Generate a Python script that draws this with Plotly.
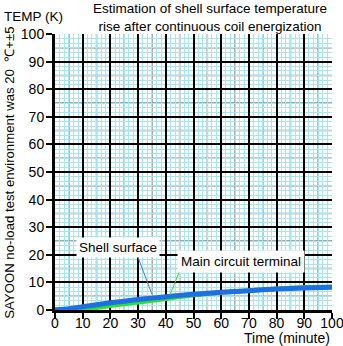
import plotly.graph_objects as go

# ---- data ----
time_min = [0, 5, 10, 15, 20, 25, 30, 35, 40, 45, 50, 55, 60, 70, 80, 90, 100]
shell_surface = [0.1, 0.5, 1.2, 1.9, 2.6, 3.2, 3.8, 4.3, 4.8, 5.3, 5.7, 6.1, 6.4, 7.0, 7.6, 8.0, 8.2]
main_terminal = [0.0, 0.0, 0.2, 0.8, 1.5, 2.2, 2.8, 3.4, 4.1, 4.8, 5.4, 5.9, 6.3, 7.1, 7.7, 8.2, 8.4]
tick_vals = [0, 10, 20, 30, 40, 50, 60, 70, 80, 90, 100]

title_text = "Estimation of shell surface temperature<br>rise after continuous coil energization"
y_title = "SAYOON no-load test environment was 20  \u2103+\u00b15"
x_title = "Time (minute)"
y_unit = "TEMP (K)"

FONT = "Liberation Sans, Arial, sans-serif"

fig = go.Figure()
fig.add_trace(go.Scatter(x=time_min, y=main_terminal, mode="lines",
                         line=dict(color="#2ee02e", width=4.5, shape="spline", smoothing=0.6),
                         name="Main circuit terminal", showlegend=False))
fig.add_trace(go.Scatter(x=time_min, y=shell_surface, mode="lines",
                         line=dict(color="#1e70e2", width=5, shape="spline", smoothing=0.6),
                         name="Shell surface", showlegend=False))

# grey half-decade grid lines
shapes = []
for v in range(5, 100, 10):
    shapes.append(dict(type="line", xref="x", yref="paper", x0=v, x1=v, y0=0, y1=1,
                       line=dict(color="#8a8a8a", width=1.5), layer="between"))
    shapes.append(dict(type="line", xref="paper", yref="y", x0=0, x1=1, y0=v, y1=v,
                       line=dict(color="#8a8a8a", width=1.5), layer="between"))
# leader lines
shapes.append(dict(type="line", xref="x", yref="y", x0=30, y0=19, x1=35, y1=5.7,
                   line=dict(color="#3a80d8", width=1), layer="above"))
shapes.append(dict(type="line", xref="x", yref="y", x0=45.5, y0=15.5, x1=41.5, y1=5.4,
                   line=dict(color="#33dd33", width=1), layer="above"))

axis_common = dict(range=[0, 100], tickvals=tick_vals, showgrid=True, gridcolor="#000000",
                   gridwidth=1.5, showline=True, linecolor="#000000", linewidth=3,
                   ticks="outside", ticklen=6, tickwidth=2, tickcolor="#000000",
                   tickfont=dict(family=FONT, size=14, color="#000000"), zeroline=False,
                   minor=dict(dtick=10 / 6, showgrid=True, gridcolor="#a8e6ef", gridwidth=1, ticks=""),
                   automargin=False, fixedrange=True, ticklabeloverflow="allow")

fig.update_layout(
    template="none",
    width=343, height=346,
    margin=dict(l=55, r=11, t=34, b=35.5),
    paper_bgcolor="white", plot_bgcolor="white",
    font=dict(family=FONT, size=13, color="#000000"),
    xaxis=dict(axis_common, ticklabelstandoff=-8),
    yaxis=dict(axis_common, ticklabelstandoff=-1),
    shapes=shapes,
    annotations=[
        dict(text=title_text, xref="paper", yref="paper", x=(210 - 55) / 277, y=1 + (34 - 17) / 276.5,
             xanchor="center", yanchor="middle", showarrow=False, font=dict(size=13.5, family=FONT)),
        dict(text=y_unit, xref="paper", yref="paper", x=-53 / 277, y=1 + (34 - 16) / 276.5,
             xanchor="left", yanchor="middle", showarrow=False, font=dict(size=13.5, family=FONT)),
        dict(text=x_title, xref="paper", yref="paper", x=1, y=-(339 - 310.5) / 276.5,
             xanchor="right", yanchor="middle", showarrow=False, font=dict(size=14, family=FONT)),
        dict(text=y_title, xref="paper", yref="paper", x=(10 - 55) / 277, y=(310.5 - 173) / 276.5,
             xanchor="center", yanchor="middle", textangle=-90, showarrow=False,
             font=dict(size=13.2, family=FONT)),
        dict(text="Shell surface", xref="x", yref="y", x=22.6, y=22.5, showarrow=False,
             bgcolor="white", borderpad=2, font=dict(size=13.5, family=FONT)),
        dict(text="Main circuit terminal", xref="x", yref="y", x=67.3, y=17.4, showarrow=False,
             bgcolor="white", borderpad=3, font=dict(size=13.5, family=FONT)),
    ],
)

fig.write_html("out.html")
